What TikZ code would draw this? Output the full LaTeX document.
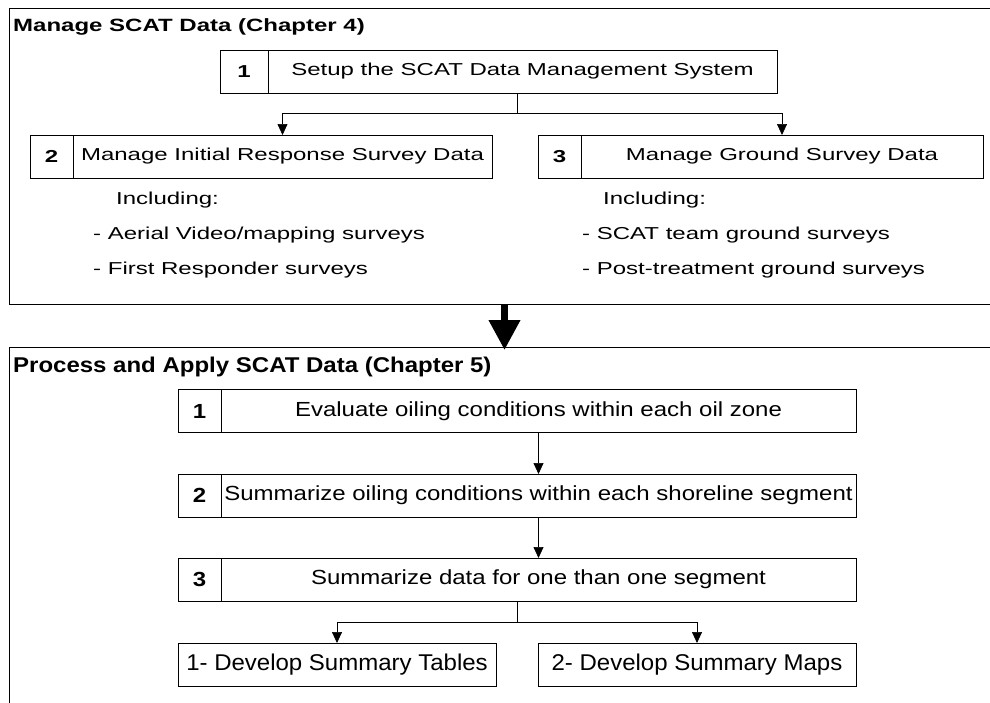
\documentclass[tikz,border=0pt]{standalone}
\usepackage{fontspec}
\usepackage{graphicx}
\setmainfont{Liberation Sans}
\usetikzlibrary{arrows.meta,calc}
\def\MainSize{\fontsize{24}{28}\selectfont}
\def\Flat#1#2{\scalebox{1}[#1]{#2}}
\tikzset{
  numcell/.style={draw, line width=0.9pt, minimum width=43pt, minimum height=43pt,
        inner sep=0pt, outer sep=0pt, font=\MainSize\bfseries},
  textcell/.style={draw, line width=0.9pt, minimum height=43pt,
        inner sep=0pt, outer sep=0pt},
  chapframe/.style={draw, line width=0.9pt, inner sep=0pt, outer sep=0pt},
  chaptitle/.style={anchor=base west, inner sep=0pt, font=\MainSize\bfseries},
  listline/.style={anchor=base west, inner sep=0pt},
  flowarrow/.style={line width=0.7pt, -{Triangle[length=11pt,width=10pt]}},
  bigarrow/.style={line width=7pt, -{Triangle[length=30pt,width=30pt]}, shorten >=-3pt}
}
\begin{document}
\begin{tikzpicture}[x=1pt, y=-1pt, font=\MainSize]
\useasboundingbox (0,0) rectangle (990,702);
% chapter frames
\node[chapframe, minimum width=991pt, minimum height=296pt] (chapfour) at (504.5,156) {};
\node[chapframe, minimum width=991pt, minimum height=373pt] (chapfive) at (504.5,533.5) {};
\node[chaptitle] (titlefour) at (13,31) {\Flat{.74}{Manage SCAT Data (Chapter 4)}};
\node[chaptitle] (titlefive) at (13,372) {\Flat{.89}{Process and Apply SCAT Data (Chapter 5)}};
\draw[bigarrow] (chapfour.south) -- (chapfive.north);

% chapter 4
\node[numcell, minimum width=48pt] (setupnum) at (244,71.5) {\Flat{.72}{1}};
\node[textcell, minimum width=509pt, anchor=west] (setup) at (setupnum.east)
  {\Flat{.72}{Setup the SCAT Data Management System}};
\node[numcell] (initnum) at (51.5,156.5) {\Flat{.72}{2}};
\node[textcell, minimum width=419pt, anchor=west] (init) at (initnum.east)
  {\Flat{.72}{Manage Initial Response Survey Data}};
\node[numcell] (groundnum) at (559.5,156.5) {\Flat{.72}{3}};
\node[textcell, minimum width=402pt, anchor=west] (ground) at (groundnum.east)
  {\Flat{.72}{Manage Ground Survey Data}};
\draw[line width=0.7pt] ([xshift=-5.5pt]setup.south) -- ++(0,20) coordinate (splitfour);
\draw[flowarrow] (splitfour) -| (init.north);
\draw[flowarrow] (splitfour) -| (ground.north);

\node[listline] (initinc) at (116,204) {\Flat{.72}{Including:}};
\node[listline] (initaer) at (93,239) {\Flat{.72}{- Aerial Video/mapping surveys}};
\node[listline] (initfst) at (93,274) {\Flat{.72}{- First Responder surveys}};
\node[listline] (groundinc) at (603,204) {\Flat{.72}{Including:}};
\node[listline] (groundscat) at (582,239) {\Flat{.72}{- SCAT team ground surveys}};
\node[listline] (groundpost) at (582,274) {\Flat{.72}{- Post-treatment ground surveys}};

% chapter 5
\node[numcell] (evalnum) at (199.5,411) {\Flat{.85}{1}};
\node[textcell, minimum width=635pt, anchor=west] (eval) at (evalnum.east)
  {\Flat{.85}{Evaluate oiling conditions within each oil zone}};
\node[numcell] (segnum) at (199.5,495.5) {\Flat{.85}{2}};
\node[textcell, minimum width=635pt, anchor=west] (seg) at (segnum.east)
  {\Flat{.85}{Summarize oiling conditions within each shoreline segment}};
\node[numcell] (multinum) at (199.5,579.5) {\Flat{.85}{3}};
\node[textcell, minimum width=635pt, anchor=west] (multi) at (multinum.east)
  {\Flat{.85}{Summarize data for one than one segment}};
\draw[flowarrow] (eval) -- (seg);
\draw[flowarrow] (seg) -- (multi);

\node[textcell, minimum width=318pt] (tables) at (337,664.5) {\Flat{.95}{1- Develop Summary Tables}};
\node[textcell, minimum width=318pt] (maps) at (697,664.5) {\Flat{.95}{2- Develop Summary Maps}};
\draw[line width=0.7pt] ($(multinum.south west)!0.5!(multi.south east)$) -- ++(0,21) coordinate (splitfive);
\draw[flowarrow] (splitfive) -| (tables.north);
\draw[flowarrow] (splitfive) -| (maps.north);
\end{tikzpicture}
\end{document}
